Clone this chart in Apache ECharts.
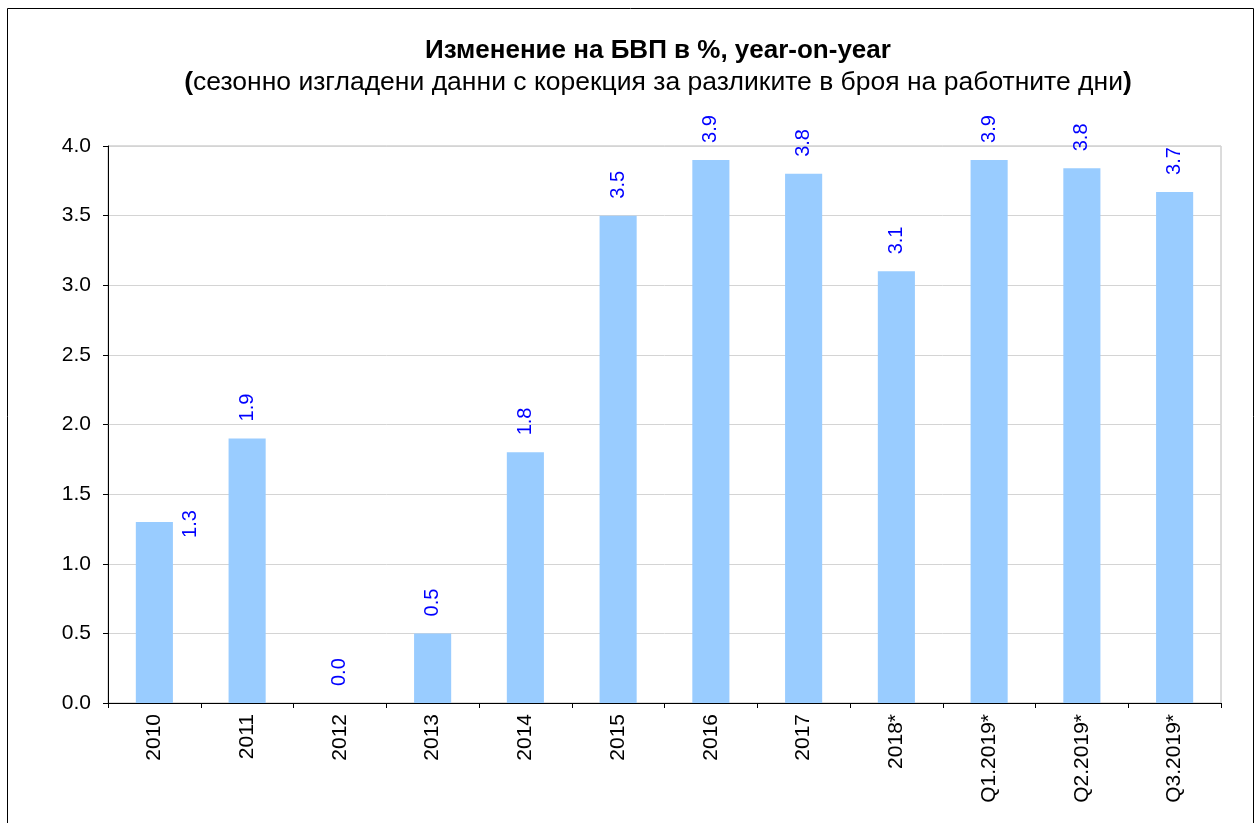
<!DOCTYPE html>
<html>
<head>
<meta charset="utf-8">
<script src="https://cdn.jsdelivr.net/npm/echarts@6/dist/echarts.min.js"></script>
<style>
  html, body { margin: 0; padding: 0; background: #fff; }
  #main { width: 1260px; height: 823px; }
</style>
</head>
<body>
<div id="main"></div>
<script>
// данни
var categories = ['2010', '2011', '2012', '2013', '2014', '2015', '2016', '2017', '2018*', 'Q1.2019*', 'Q2.2019*', 'Q3.2019*'];
var gdpGrowth = [1.3, 1.9, 0.0, 0.5, 1.8, 3.5, 3.9, 3.8, 3.1, 3.9, 3.84, 3.67];
var yTicks = ['0.0', '0.5', '1.0', '1.5', '2.0', '2.5', '3.0', '3.5', '4.0'];

var FONT = '"Liberation Sans", Arial, sans-serif';

var barData = gdpGrowth.map(function (v, i) {
    var item = { value: v };
    // етикетът на 2010 стои вдясно от стълба
    if (i === 0) {
        item.label = { offset: [-33, 36] };
    }
    return item;
});

var myChart = echarts.init(document.getElementById('main'));
var option = {
    backgroundColor: '#fff',
    animation: false,
    graphic: [{
        type: 'rect',
        shape: { x: 7.5, y: 8.5, width: 1246, height: 840 },
        style: { fill: 'none', stroke: '#000', lineWidth: 1 },
        silent: true
    }],
    title: {
        text: 'Изменение на БВП в %, year-on-year',
        subtext: '{b|(}сезонно изгладени данни с корекция за разликите в броя на работните дни{b|)}',
        left: 653,
        textAlign: 'center',
        top: 33,
        itemGap: 5,
        textStyle: {
            fontFamily: FONT,
            fontSize: 26,
            fontWeight: 'bold',
            color: '#000'
        },
        subtextStyle: {
            fontFamily: FONT,
            fontSize: 26.5,
            color: '#000',
            rich: {
                b: { fontFamily: FONT, fontSize: 26.5, fontWeight: 'bold', color: '#000' }
            }
        }
    },
    grid: {
        left: 108,
        right: 39,
        top: 146,
        bottom: 120,
        show: true,
        borderColor: '#b8b8b8',
        borderWidth: 1,
        containLabel: false
    },
    xAxis: {
        type: 'category',
        data: categories,
        axisLine: { lineStyle: { color: '#000', width: 1 } },
        axisTick: { show: true, length: 5, lineStyle: { color: '#000' } },
        axisLabel: {
            rotate: 90,
            fontFamily: FONT,
            fontSize: 21,
            color: '#000',
            margin: 11
        }
    },
    yAxis: {
        type: 'value',
        min: 0,
        max: 4,
        interval: 0.5,
        axisLine: { show: true, lineStyle: { color: '#000', width: 1 } },
        axisTick: { show: true, length: 5, lineStyle: { color: '#000' } },
        axisLabel: {
            fontFamily: FONT,
            fontSize: 21,
            color: '#000',
            margin: 17,
            formatter: function (v) {
                return yTicks[Math.round(v * 2)];
            }
        },
        splitLine: { lineStyle: { color: '#d4d4d4', width: 1 } }
    },
    series: [{
        type: 'bar',
        data: barData,
        barCategoryGap: '60%',
        itemStyle: { color: '#99ccff' },
        label: {
            show: true,
            position: 'top',
            distance: 17,
            rotate: 90,
            align: 'left',
            verticalAlign: 'middle',
            fontFamily: FONT,
            fontSize: 20,
            color: '#0000ff',
            formatter: function (p) {
                return p.value.toFixed(1);
            }
        }
    }]
};
myChart.setOption(option);
</script>
</body>
</html>
